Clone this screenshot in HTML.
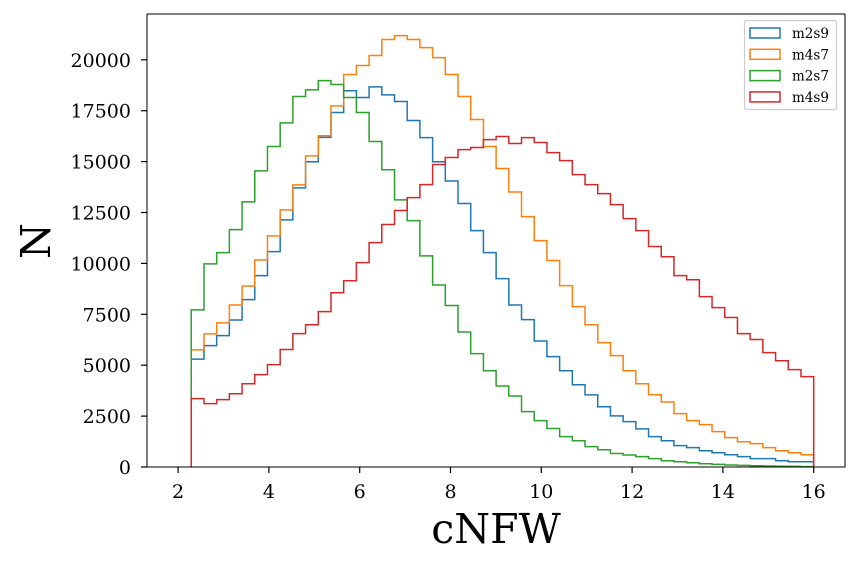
<!DOCTYPE html>
<html><head><meta charset="utf-8">
<style>
body{margin:0;background:#fff;}
svg{display:block;font-family:"DejaVu Serif","Liberation Serif",serif;}
</style></head>
<body>
<svg id="chart" width="859" height="566"></svg>
<script>
const binStart = 2.29;
const binEnd = 16.0;
const seriesNames = ["m2s9","m4s7","m2s7","m4s9"];
const seriesColors = ["#1f77b4","#ff7f0e","#2ca02c","#d62728"];
const m2s9 = [5300,5960,6450,7220,8220,9400,10580,12140,13710,14990,16190,17410,18480,18150,18670,18280,17950,17020,16180,14990,14050,12940,11610,10530,9250,7960,7240,6190,5420,4730,4040,3540,2960,2510,2230,1870,1490,1290,1050,950,800,700,600,510,410,410,310,260,260];
const m4s7 = [5750,6540,7080,7960,8890,10170,11350,12630,13860,15280,16270,17740,19280,19720,20210,21000,21190,21000,20600,20110,19280,18200,17070,15740,14660,13510,12300,11120,10140,8910,7880,6990,6110,5470,4730,4090,3550,3190,2620,2280,2080,1740,1440,1240,1150,950,800,700,600];
const m2s7 = [7715,9975,10530,11660,13020,14545,15740,16900,18200,18525,18980,18790,18150,17410,15985,14600,13120,12100,10370,8940,7930,6630,5570,4730,3980,3490,2720,2280,1890,1490,1290,1000,850,660,590,510,410,310,260,210,160,130,100,80,60,50,40,30,20];
const m4s9 = [3360,3110,3310,3600,4090,4540,5030,5770,6550,6990,7630,8560,9150,10040,11020,11910,12600,13230,13870,14860,15200,15590,15690,16080,16230,15890,16180,15940,15440,15050,14360,13870,13430,12890,12200,11610,10830,10330,9400,9200,8370,7830,7340,6550,6260,5620,5220,4780,4440];
const seriesData = [m2s9,m4s7,m2s7,m4s9];
const xTicks = [2,4,6,8,10,12,14,16];
const yTicks = [0,2500,5000,7500,10000,12500,15000,17500,20000];

const NS="http://www.w3.org/2000/svg";
const svg=document.getElementById('chart');
const L=147,R=845,T=14,B=467;
const xMin=1.315,xMax=16.69,yMin=0,yMax=22250;
function xs(v){return L+(v-xMin)/(xMax-xMin)*(R-L);}
function ys(v){return B-(v-yMin)/(yMax-yMin)*(B-T);}
function mk(tag,attrs){const e=document.createElementNS(NS,tag);for(const k in attrs)e.setAttribute(k,attrs[k]);svg.appendChild(e);return e;}

seriesData.forEach((d,si)=>{
  const n=d.length,w=(binEnd-binStart)/n;
  let pts=[[xs(binStart),ys(0)]];
  d.forEach((v,i)=>{pts.push([xs(binStart+i*w),ys(v)]);pts.push([xs(binStart+(i+1)*w),ys(v)]);});
  pts.push([xs(binEnd),ys(0)]);
  const p=mk('polyline',{points:pts.map(p=>p[0].toFixed(2)+','+p[1].toFixed(2)).join(' '),fill:'none',stroke:seriesColors[si],'stroke-width':1.5});
  
  
});

const fr=mk('rect',{x:L,y:T,width:R-L,height:B-T,fill:'none',stroke:'#000','stroke-width':1});



xTicks.forEach(t=>{
  const x=xs(t);
  const l=mk('line',{x1:x,x2:x,y1:B,y2:B+6,stroke:'#000','stroke-width':1.2});
  
  
  const tx=mk('text',{x:x,y:B+31,'font-size':19,'text-anchor':'middle',fill:'#000'});
  tx.textContent=t;
  
  
});
yTicks.forEach(t=>{
  const y=ys(t);
  const l=mk('line',{x1:L-6,x2:L,y1:y,y2:y,stroke:'#000','stroke-width':1.2});
  
  
  const tx=mk('text',{x:L-16,y:y+7,'font-size':19,'text-anchor':'end',fill:'#000'});
  tx.textContent=t;
  
  
});

const xl=mk('text',{x:496,y:543,'font-size':41,'text-anchor':'middle',fill:'#000'});
xl.textContent='cNFW';


const yl=mk('text',{x:0,y:0,'font-size':41,'text-anchor':'middle',fill:'#000',transform:'translate(50,241) rotate(-90)'});
yl.textContent='N';



const lg=mk('rect',{x:744.5,y:20.5,width:92,height:89,rx:2,fill:'#fff','fill-opacity':0.8,stroke:'#ccc','stroke-width':1.2});


seriesNames.forEach((nm,i)=>{
  const y=33+i*21.3;
  const r=mk('rect',{x:750,y:y-5,width:30,height:10,fill:'none',stroke:seriesColors[i],'stroke-width':1.5});
  
  
  const t=mk('text',{x:792,y:y+5,'font-size':13.5,fill:'#000'});
  t.textContent=nm;
  
  
});
</script>
</body></html>
